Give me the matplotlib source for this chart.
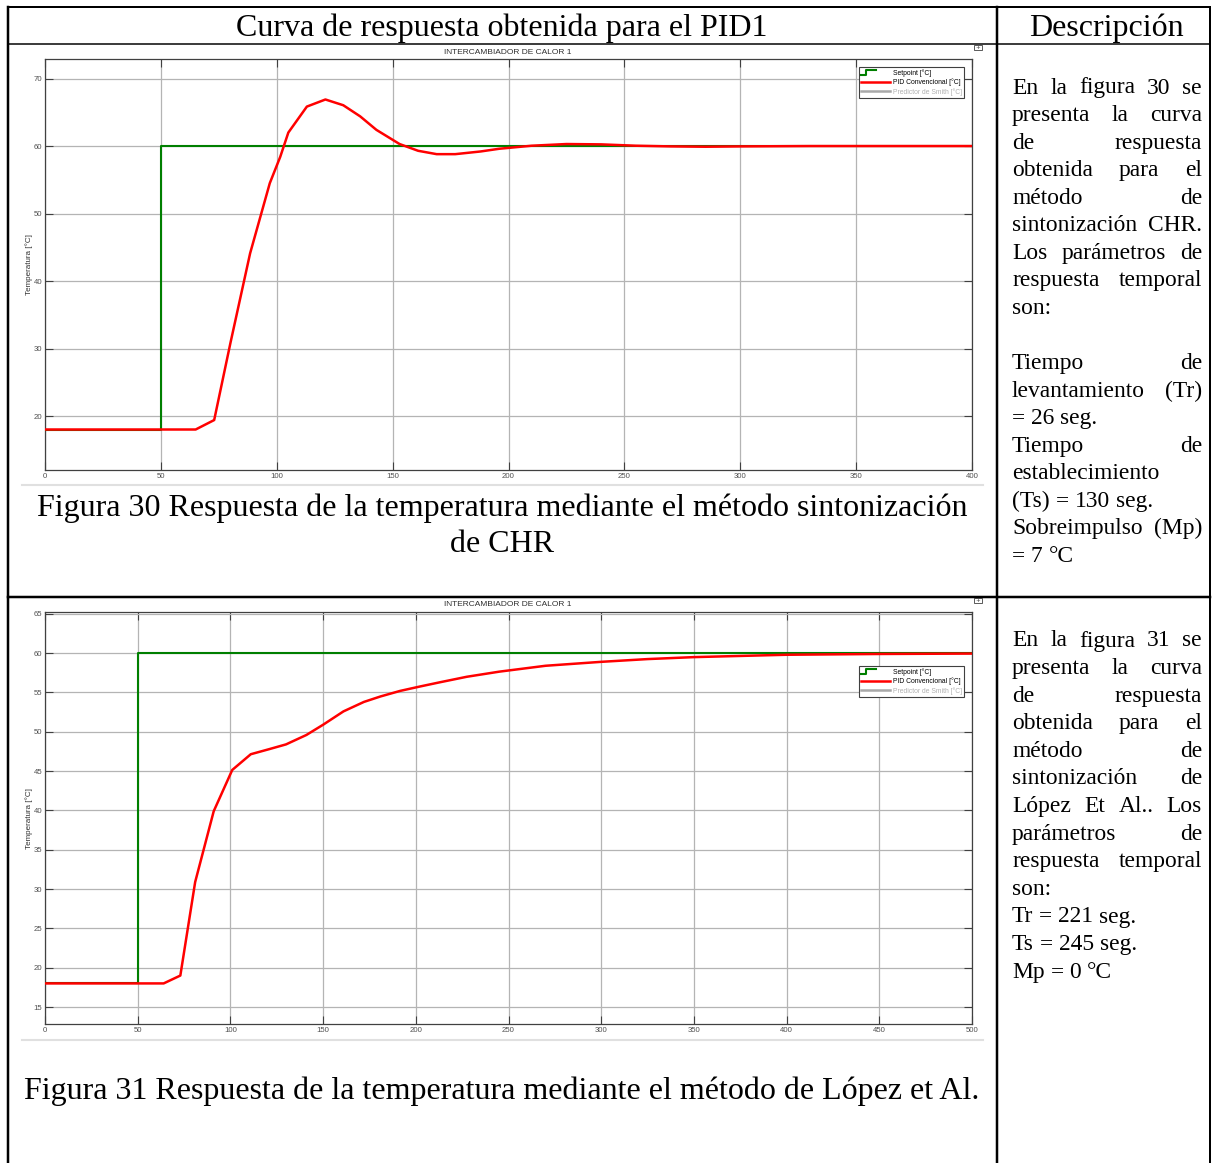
import matplotlib
matplotlib.use('Agg')
import matplotlib.pyplot as plt
from matplotlib.lines import Line2D
from matplotlib.legend_handler import HandlerBase
from matplotlib.patches import Rectangle

W, H = 1212, 1163

# datos curva 1 (PID1 - CHR)
t_sp1 = [0, 50, 50, 400]
y_sp1 = [18, 18, 60, 60]
t_pid1 = [0, 65, 73, 80, 88.5, 97, 101.5, 105, 113, 121, 128.7, 136, 143, 153, 161,
          169, 177, 188, 196, 210, 225, 240, 255, 270, 285, 300, 330, 400]
y_pid1 = [18, 18, 19.4, 30.8, 44.1, 54.5, 58.4, 62.0, 65.85, 66.9, 66.05, 64.4, 62.4,
          60.3, 59.3, 58.8, 58.8, 59.2, 59.6, 60.05, 60.3, 60.25, 60.05, 59.95, 59.9,
          59.95, 60.0, 60.0]

# datos curva 2 (Lopez et Al.)
t_sp2 = [0, 50, 50, 500]
y_sp2 = [18, 18, 60, 60]
t_pid2 = [0, 64, 73, 81, 91, 101, 111, 121, 130, 141, 150, 161, 172, 181, 191.5, 202,
          213, 227.5, 245, 270, 300, 325, 350, 375, 400, 450, 500]
y_pid2 = [18, 18, 19.0, 30.9, 39.9, 45.15, 47.15, 47.8, 48.4, 49.6, 50.9, 52.6, 53.8,
          54.5, 55.2, 55.75, 56.3, 57.0, 57.65, 58.4, 58.9, 59.25, 59.5, 59.65, 59.8,
          59.9, 59.95]

xticks1 = list(range(0, 401, 50))
yticks1 = list(range(20, 71, 10))
xticks2 = list(range(0, 501, 50))
yticks2 = list(range(15, 66, 5))

legend_labels = ['Setpoint [°C]', 'PID Convencional [°C]', 'Predictor de Smith [°C]']

desc1 = [
    ("En la figura 30 se", True),
    ("presenta la curva", True),
    ("de respuesta", True),
    ("obtenida para el", True),
    ("método de", True),
    ("sintonización CHR.", True),
    ("Los parámetros de", True),
    ("respuesta temporal", True),
    ("son:", False),
    ("", False),
    ("Tiempo de", True),
    ("levantamiento (Tr)", True),
    ("=  26 seg.", False),
    ("Tiempo de", True),
    ("establecimiento", False),
    ("(Ts) = 130 seg.", False),
    ("Sobreimpulso (Mp)", True),
    ("= 7 °C", False),
]
desc2 = [
    ("En la figura 31 se", True),
    ("presenta la curva", True),
    ("de respuesta", True),
    ("obtenida para el", True),
    ("método de", True),
    ("sintonización de", True),
    ("López Et Al.. Los", True),
    ("parámetros de", True),
    ("respuesta temporal", True),
    ("son:", False),
    ("Tr = 221 seg.", False),
    ("Ts = 245 seg.", False),
    ("Mp = 0 °C", False),
]

SERIF = 'Liberation Serif'
SANS = 'Liberation Sans'

fig = plt.figure(figsize=(W / 100, H / 100), dpi=100)
bg = fig.add_axes([0, 0, 1, 1])
bg.set_xlim(0, W)
bg.set_ylim(H, 0)
bg.axis('off')

# tabla
k = 0.72
bg.plot([8, 1210], [7, 7], color='black', lw=2 * k)
bg.plot([8, 8], [7, H], color='black', lw=2.5 * k)
bg.plot([1210, 1210], [7, H], color='black', lw=2 * k)
bg.plot([997, 997], [7, H], color='black', lw=2.5 * k)
bg.plot([8, 1210], [44, 44], color='black', lw=1.5 * k)
bg.plot([8, 1210], [597, 597], color='black', lw=2.5 * k)

bg.text(502, 28, 'Curva de respuesta obtenida para el PID1', family=SERIF, fontsize=23,
        ha='center', va='center')
bg.text(1106, 28, 'Descripción', family=SERIF, fontsize=23, ha='center', va='center')
bg.text(502, 508, 'Figura 30 Respuesta de la temperatura mediante el método sintonización',
        family=SERIF, fontsize=23, ha='center', va='center')
bg.text(502, 545, 'de CHR', family=SERIF, fontsize=23, ha='center', va='center')
bg.text(502, 1091, 'Figura 31 Respuesta de la temperatura mediante el método de López et Al.',
        family=SERIF, fontsize=23, ha='center', va='center')


class StepHandler(HandlerBase):
    def create_artists(self, legend, orig_handle, xdescent, ydescent, width, height,
                       fontsize, trans):
        x0 = -xdescent
        xs = [x0, x0 + 0.18 * width, x0 + 0.18 * width, x0 + 0.5 * width]
        ys = [0.05 * height, 0.05 * height, 0.95 * height, 0.95 * height]
        ln = Line2D(xs, ys, color=orig_handle.get_color(), lw=orig_handle.get_linewidth(),
                    transform=trans)
        return [ln]


def scope(rect_px, t_sp, y_sp, t_pid, y_pid, xticks, yticks, xlim, ylim, leg_anchor):
    l, t, r, b = rect_px
    ax = fig.add_axes([l / W, 1 - b / H, (r - l) / W, (b - t) / H])
    ax.plot(t_sp, y_sp, color='#007f00', lw=1.5, zorder=3)
    ax.plot(t_pid, y_pid, color='#ff0000', lw=1.8, zorder=4)
    ax.set_xlim(*xlim)
    ax.set_ylim(*ylim)
    ax.set_xticks(xticks)
    ax.set_yticks(yticks)
    ax.grid(True, color='#b4b4b4', lw=0.9)
    ax.tick_params(direction='in', length=5.5, width=0.8, color='#404040',
                   labelsize=5.6, labelcolor='#505050', top=True, right=True, pad=2)
    for lab in ax.get_xticklabels() + ax.get_yticklabels():
        lab.set_family(SANS)
    for s in ax.spines.values():
        s.set_color('#404040')
        s.set_linewidth(0.9)
    ax.set_ylabel('Temperatura [°C]', family=SANS, fontsize=5.8, color='#303030')
    ax.yaxis.set_label_coords(-0.013, 0.5)
    h_sp = Line2D([], [], color='#007f00', lw=1.5)
    h_pid = Line2D([], [], color='#ff0000', lw=1.8)
    h_sm = Line2D([], [], color='#a8a8a8', lw=1.8)
    leg = ax.legend([h_sp, h_pid, h_sm], legend_labels, loc='upper right',
                    bbox_to_anchor=leg_anchor, borderaxespad=0, fancybox=False,
                    edgecolor='#404040', framealpha=1, prop={'family': SANS, 'size': 4.9},
                    handlelength=4.2, handletextpad=0.4, labelspacing=0.25,
                    borderpad=0.35, handler_map={h_sp: StepHandler()})
    leg.get_frame().set_linewidth(0.8)
    leg.get_texts()[2].set_color('#b0b0b0')
    return ax


scope((45, 59, 972, 470), t_sp1, y_sp1, t_pid1, y_pid1, xticks1, yticks1,
      (0, 400), (12, 72.9), (0.9914, 0.981))
scope((45, 612.3, 972, 1024.3), t_sp2, y_sp2, t_pid2, y_pid2, xticks2, yticks2,
      (0, 500), (12.8, 65.2), (0.9914, 0.870))

for yt, ysep in [(52, 485), (605, 1040)]:
    bg.text(508, yt, 'INTERCAMBIADOR DE CALOR 1', family=SANS, fontsize=6,
            color='#303030', ha='center', va='center')
    bg.plot([22, 983], [ysep, ysep], color='#e0e0e0', lw=1.5)
    bg.add_patch(Rectangle((974, yt - 7), 8, 5, fill=False, ec='#404040', lw=0.6))
    bg.text(978, yt - 4.5, '+', fontsize=4, ha='center', va='center', color='#404040')

# texto justificado
renderer = fig.canvas.get_renderer()


def justify(lines, x0, x1, y0, dy, size):
    space = 0.25 * size * 100 / 72
    for i, (line, just) in enumerate(lines):
        words = line.split()
        if not words:
            continue
        y = y0 + i * dy
        ts = [bg.text(0, y, w, family=SERIF, fontsize=size, va='center') for w in words]
        ws = [tx.get_window_extent(renderer).width for tx in ts]
        gap = space
        if just and len(words) > 1:
            gap = (x1 - x0 - sum(ws)) / (len(words) - 1)
        x = x0
        for tx, w in zip(ts, ws):
            tx.set_x(x)
            x += w + gap


justify(desc1, 1012, 1202, 88, 27.55, 16.9)
justify(desc2, 1012, 1202, 641, 27.6, 16.9)

fig.savefig('out.png', dpi=100)
